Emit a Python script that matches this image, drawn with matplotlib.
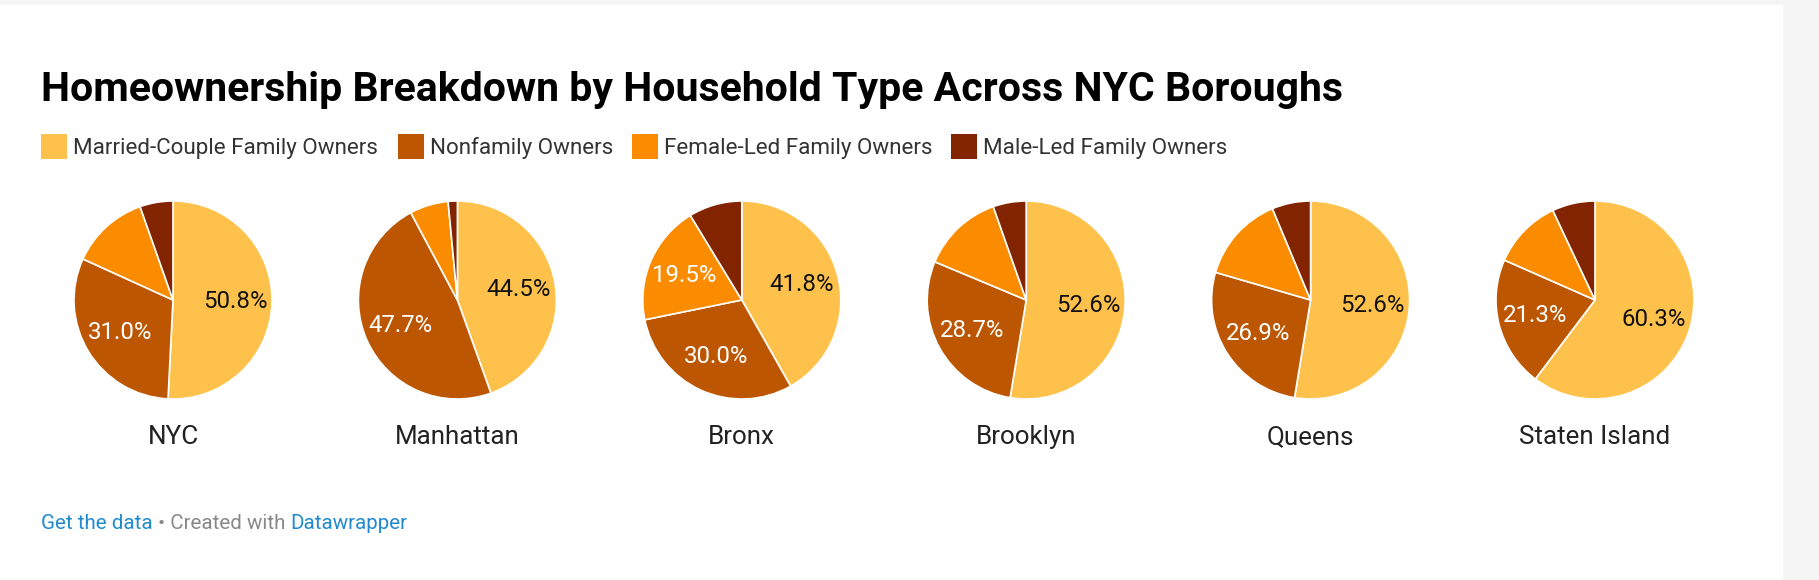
import matplotlib
matplotlib.use('Agg')
import matplotlib.pyplot as plt
from matplotlib.patches import Rectangle
import numpy as np

W, H = 1819, 580
DPI = 100

boroughs = ['NYC', 'Manhattan', 'Bronx', 'Brooklyn', 'Queens', 'Staten Island']
categories = ['Married-Couple Family Owners', 'Nonfamily Owners',
              'Female-Led Family Owners', 'Male-Led Family Owners']
married = [50.8, 44.5, 41.8, 52.6, 52.6, 60.3]
nonfamily = [31.0, 47.7, 30.0, 28.7, 26.9, 21.3]
female_led = [12.8, 6.3, 19.5, 13.3, 14.2, 11.4]
male_led = [5.4, 1.5, 8.7, 5.4, 6.3, 7.0]

colors = ['#fec24c', '#bc5600', '#fb8c00', '#832400']
label_colors = ['#111111', 'white', 'white', 'white']

plt.rcParams['font.family'] = ['Roboto', 'DejaVu Sans']


def fx(x):
    return x / W


def fy(y):
    return 1 - y / H


def pt(px):
    return px * 72 / DPI


fig = plt.figure(figsize=(W / DPI, H / DPI), dpi=DPI, facecolor='#f5f5f5')

# white card behind everything
fig.patches.append(Rectangle((0, 0), fx(1783), fy(5), transform=fig.transFigure,
                             facecolor='white', edgecolor='none', zorder=-5))

fig.text(fx(41), fy(101), 'Homeownership Breakdown by Household Type Across NYC Boroughs',
         fontsize=pt(41), fontweight='bold', color='black', va='baseline', ha='left')

# legend
legend_x = [41, 398, 632, 951]
for lx, cat, c in zip(legend_x, categories, colors):
    fig.patches.append(Rectangle((fx(lx), fy(159)), 26 / W, 25 / H, transform=fig.transFigure,
                                 facecolor=c, edgecolor='none'))
    fig.text(fx(lx + 32), fy(154), cat, fontsize=pt(22.4), color='#333333',
             va='baseline', ha='left')

# pies
r = 100
cy = 300
for i, name in enumerate(boroughs):
    cx = 173 + i * 284.4
    ax = fig.add_axes([fx(cx - r), fy(cy + r), 2 * r / W, 2 * r / H])
    vals = [married[i], nonfamily[i], female_led[i], male_led[i]]
    wedges, _ = ax.pie(vals, colors=colors, startangle=90, counterclock=False,
                       wedgeprops=dict(edgecolor='white', linewidth=1.2))
    ax.set_xlim(-1.01, 1.01)
    ax.set_ylim(-1.01, 1.01)
    ax.axis('off')
    for w, v, lc in zip(wedges, vals, label_colors):
        if v < 15:
            continue
        mid = np.deg2rad((w.theta1 + w.theta2) / 2)
        ax.text(0.63 * np.cos(mid), 0.63 * np.sin(mid), f'{v:.1f}%',
                fontsize=pt(24), color=lc, ha='center', va='center')
    fig.text(fx(cx), fy(444), name, fontsize=pt(26), color='#222222',
             ha='center', va='baseline')

# footer
fs_foot = pt(20.5)
t1 = fig.text(fx(41), fy(529), 'Get the data', fontsize=fs_foot, color='#1f8bce',
              ha='left', va='baseline')
fig.canvas.draw()
rend = fig.canvas.get_renderer()
bb = t1.get_window_extent(rend)
t2 = fig.text(bb.x1 / W, fy(529), ' \u2022 Created with ', fontsize=fs_foot, color='#888888',
              ha='left', va='baseline')
bb2 = t2.get_window_extent(rend)
fig.text(bb2.x1 / W, fy(529), 'Datawrapper', fontsize=fs_foot, color='#1f8bce',
         ha='left', va='baseline')

fig.savefig('out.png', dpi=DPI, facecolor=fig.get_facecolor())
